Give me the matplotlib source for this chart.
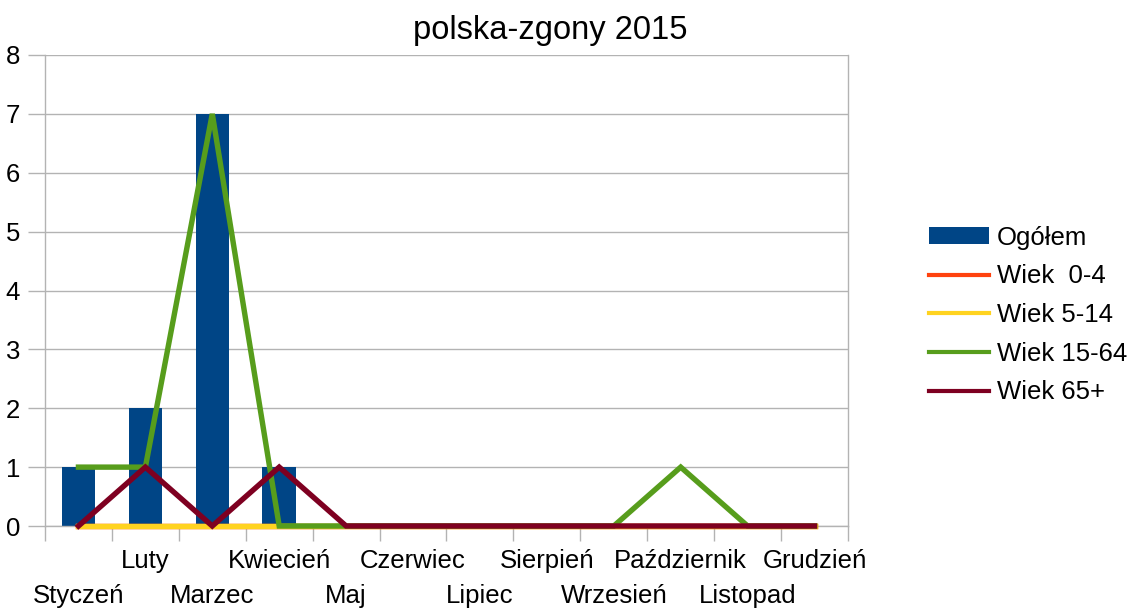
import matplotlib
matplotlib.use("Agg")
import matplotlib.pyplot as plt
import matplotlib.transforms as mtransforms
import numpy as np

plt.rcParams['font.family'] = ['Liberation Sans', 'DejaVu Sans']

# Data
months = ["Styczeń", "Luty", "Marzec", "Kwiecień", "Maj", "Czerwiec",
          "Lipiec", "Sierpień", "Wrzesień", "Październik", "Listopad", "Grudzień"]
ogolem = [1, 2, 7, 1, 0, 0, 0, 0, 0, 0, 0, 0]
wiek_0_4 = [0, 0, 0, 0, 0, 0, 0, 0, 0, 0, 0, 0]
wiek_5_14 = [0, 0, 0, 0, 0, 0, 0, 0, 0, 0, 0, 0]
wiek_15_64 = [1, 1, 7, 0, 0, 0, 0, 0, 0, 1, 0, 0]
wiek_65 = [0, 1, 0, 1, 0, 0, 0, 0, 0, 0, 0, 0]

grid_col = "#b3b3b3"
fs = 18.5

fig = plt.figure(figsize=(11.31, 6.08), dpi=100)
ax = fig.add_axes([45 / 1131, 1 - 526 / 608, 803 / 1131, 471 / 608])

x = np.arange(len(months))
bars = ax.bar(x, ogolem, width=0.5, color="#004586", label="Ogółem", zorder=2)
lines = []
for vals, col, lab in [(wiek_0_4, "#ff420e", "Wiek  0-4"),
                       (wiek_5_14, "#ffd320", "Wiek 5-14"),
                       (wiek_15_64, "#579d1c", "Wiek 15-64"),
                       (wiek_65, "#7e0021", "Wiek 65+")]:
    ln, = ax.plot(x, vals, color=col, lw=3.9, label=lab, zorder=3,
                  clip_on=False, solid_joinstyle="miter")
    lines.append(ln)

ax.set_xlim(-0.5, len(months) - 0.5)
ax.set_ylim(0, 8)
ax.set_yticks(range(0, 9))
ax.yaxis.grid(True, color=grid_col, lw=1)
ax.set_axisbelow(True)

# boundary ticks, labels placed in two staggered rows
ax.set_xticks(np.arange(-0.5, len(months)))
ax.set_xticklabels([])
ax.tick_params(axis="x", length=11, color=grid_col, width=1)
ax.tick_params(axis="y", length=12, color=grid_col, width=1, pad=6, labelsize=fs)
for i, m in enumerate(months):
    dy = -58 if i % 2 == 0 else -23
    tr = ax.get_xaxis_transform() + mtransforms.ScaledTranslation(0, dy / 100, fig.dpi_scale_trans)
    ax.text(i, 0, m, transform=tr, ha="center", va="top", fontsize=fs)

for s in ["left", "right", "bottom"]:
    ax.spines[s].set_color(grid_col)
    ax.spines[s].set_linewidth(1)
ax.spines["top"].set_visible(False)

fig.text(550 / 1131, 1 - 30 / 608, "polska-zgony 2015", fontsize=23.5,
         ha="center", va="center")

leg = fig.legend([bars] + lines, ["Ogółem"] + [l.get_label() for l in lines],
                 loc="center left", bbox_to_anchor=(929 / 1131, 1 - 315 / 608),
                 frameon=False, fontsize=fs, handlelength=2.35, handletextpad=0.3,
                 labelspacing=0.57, borderpad=0, borderaxespad=0, handleheight=0.6)
for l in leg.get_lines():
    l.set_linewidth(3)

fig.savefig("out.png", dpi=100)
